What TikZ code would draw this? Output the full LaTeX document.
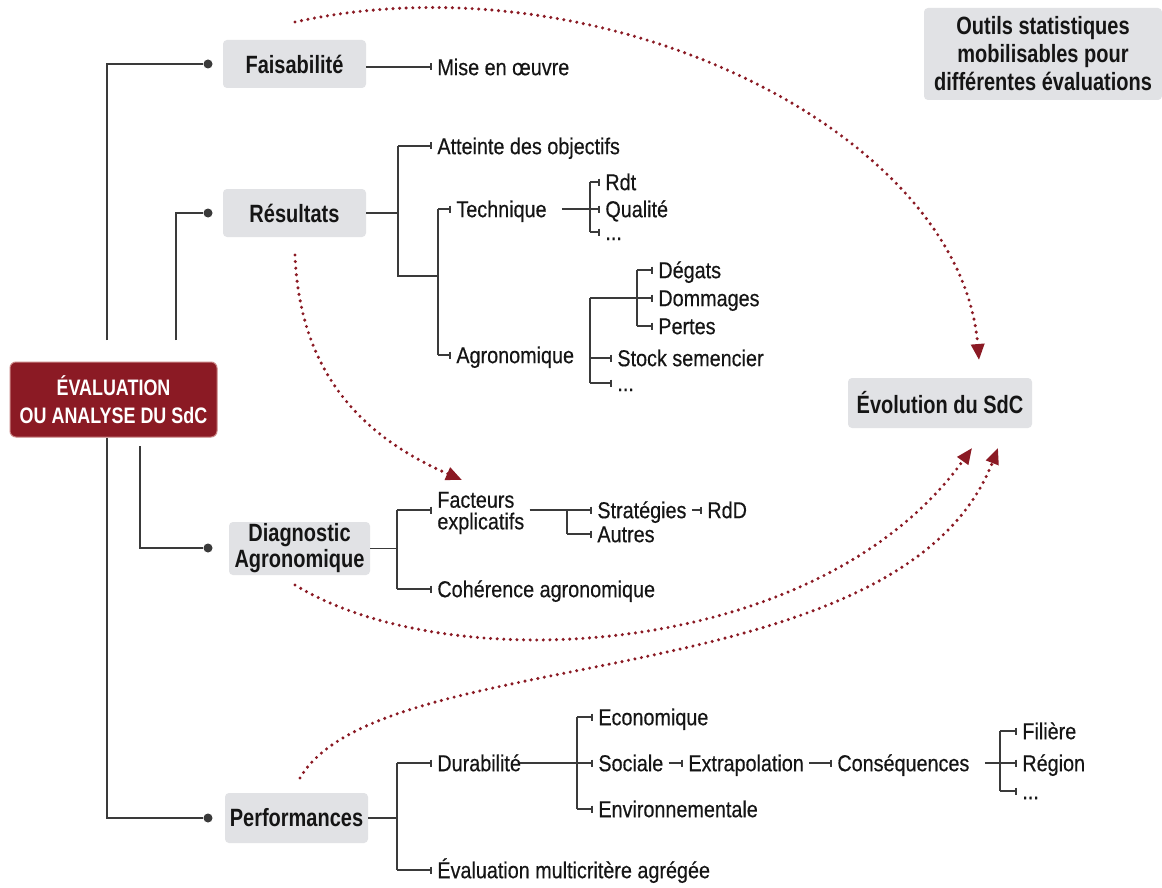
\documentclass[tikz,border=0pt]{standalone}
\usepackage{fontspec}
\setmainfont{Liberation Sans}[FakeStretch=0.86,FakeBold=0.4]
\newfontfamily\boxfont{Liberation Sans}[FakeStretch=0.8]
\usetikzlibrary{arrows.meta,calc}
\definecolor{dred}{HTML}{8B1A24}
\definecolor{boxg}{HTML}{E1E2E5}
\definecolor{lgray}{HTML}{3A3A3A}
\definecolor{txt}{HTML}{151515}
\begin{document}
\begin{tikzpicture}[x=0.5pt,y=-0.5pt,
 gbox/.style={fill=boxg, rounded corners=2pt, font=\boxfont\bfseries\fontsize{12.5}{14}\selectfont, text=txt, align=center, inner sep=0pt},
 lbl/.style={anchor=west, inner xsep=2.5pt, inner ysep=0pt, text height=8.2pt, text depth=0pt, font=\fontsize{11.5}{12}\selectfont, text=txt},
 tr/.style={draw=lgray, line width=0.8pt},
 tk/.style={tr, -{Bar[width=3.5pt,line width=0.8pt]}},
 lt/.style={draw=lgray, line width=1.1pt},
 rd/.style={draw=dred, line width=1.7pt, line cap=round, dash pattern=on 0pt off 3.3pt, -{Triangle[length=8pt,width=6.5pt]}},
 dotn/.style={circle, fill=lgray, inner sep=0pt, minimum size=4.5pt}
]
\useasboundingbox[fill=white] (0,0) rectangle (1162,888);

% main boxes
\node[fill=dred, draw={rgb,255:red,200;green,130;blue,130}, line width=0.5pt, rounded corners=3pt, minimum width=103.5pt, minimum height=37.5pt, inner sep=0pt, align=center, text=white, font=\boxfont\bfseries\fontsize{11.2}{14}\selectfont] (eval) at (113.5,399.5) {ÉVALUATION\\OU ANALYSE DU SdC};
\node[gbox, minimum width=71.5pt, minimum height=24pt] (fais) at (294.5,64) {Faisabilité};
\node[gbox, minimum width=71.5pt, minimum height=24pt] (res) at (294.5,213) {Résultats};
\node[gbox, minimum width=70.5pt, minimum height=26.5pt, font=\boxfont\bfseries\fontsize{12.5}{13}\selectfont] (diag) at (299.5,548.5) {Diagnostic\\Agronomique};
\node[gbox, minimum width=71.5pt, minimum height=25pt] (perf) at (296.5,818) {Performances};
\node[gbox, minimum width=92pt, minimum height=25pt] (evol) at (940,403) {Évolution du SdC};
\node[gbox, minimum width=119pt, minimum height=46pt] (outils) at (1043,54) {Outils statistiques\\mobilisables pour\\différentes évaluations};

% left tree
\node[dotn] (dF) at (208,64) {};
\node[dotn] (dR) at (208,213) {};
\node[dotn] (dD) at (208,548) {};
\node[dotn] (dP) at (208,818) {};
\coordinate (c1) at (107,340);
\coordinate (c2) at (107,438);
\coordinate (c3) at (176,340);
\coordinate (c4) at (140,446);
\draw[lt] (c1) |- (dF);
\draw[lt] (c2) |- (dP);
\draw[lt] (c3) |- (dR);
\draw[lt] (c4) |- (dD);

% labels
\node[lbl] (mise) at (432,67) {Mise en œuvre};
\node[lbl] (atteinte) at (432,146) {Atteinte des objectifs};
\node[lbl] (tech) at (451,209) {Technique};
\node[lbl] (agro) at (451,355) {Agronomique};
\node[lbl] (rdt) at (600,182) {Rdt};
\node[lbl] (qual) at (600,209) {Qualité};
\node[lbl] (dots1) at (600,232) {...};
\node[lbl] (degats) at (653,270) {Dégats};
\node[lbl] (domm) at (653,298) {Dommages};
\node[lbl] (pertes) at (653,326) {Pertes};
\node[lbl] (stock) at (612,358) {Stock semencier};
\node[lbl] (dots2) at (612,383) {...};
\node[anchor=west, inner xsep=2.5pt, inner ysep=0pt, align=left, font=\fontsize{11.5}{10.8}\selectfont, text=txt] (fact) at (432,513) {Facteurs\\explicatifs};
\node[lbl] (strat) at (592,510) {Stratégies};
\node[lbl] (rdd) at (702,510) {RdD};
\node[lbl] (autres) at (592,534) {Autres};
\node[lbl] (coher) at (432,589) {Cohérence agronomique};
\node[lbl] (durab) at (432,763) {Durabilité};
\node[lbl] (eco) at (593,717) {Economique};
\node[lbl] (soc) at (593,763) {Sociale};
\node[lbl] (extra) at (683,763) {Extrapolation};
\node[lbl] (conseq) at (832,763) {Conséquences};
\node[lbl] (fil) at (1017,731) {Filière};
\node[lbl] (reg) at (1017,763) {Région};
\node[lbl] (dots3) at (1017,791) {...};
\node[lbl] (envi) at (593,809) {Environnementale};
\node[lbl] (evalm) at (432,870) {Évaluation multicritère agrégée};

% Faisabilité
\draw[tk] (mise.west -| fais.east) -- (mise.west);

% Résultats
\coordinate (jR1) at (398,146);
\coordinate (jR2) at (398,276);
\coordinate (jR3) at (438,276);
\draw[tr] (res.east) -- (res.east -| jR1);
\draw[tr] (jR1) -- (jR2) -- (jR3);
\draw[tk] (jR1) -- (atteinte.west);
\draw[tr] (tech.west -| jR3) -- (agro.west -| jR3);
\draw[tk] (tech.west -| jR3) -- (tech.west);
\draw[tk] (agro.west -| jR3) -- (agro.west);
\coordinate (jT) at (590,209);
\draw[tr] ([xshift=5pt]tech.east) -- (jT);
\draw[tr] (rdt.west -| jT) -- (dots1.west -| jT);
\draw[tk] (rdt.west -| jT) -- (rdt.west);
\draw[tk] (qual.west -| jT) -- (qual.west);
\draw[tk] (dots1.west -| jT) -- (dots1.west);
\coordinate (jA) at (590,298);
\coordinate (jD) at (637,298);
\draw[tr] (jA) -- (dots2.west -| jA);
\draw[tk] (stock.west -| jA) -- (stock.west);
\draw[tk] (dots2.west -| jA) -- (dots2.west);
\draw[tr] (jA) -- (jD);
\draw[tr] (degats.west -| jD) -- (pertes.west -| jD);
\draw[tk] (degats.west -| jD) -- (degats.west);
\draw[tk] (domm.west -| jD) -- (domm.west);
\draw[tk] (pertes.west -| jD) -- (pertes.west);

% Diagnostic
\coordinate (jD1) at (397,510);
\coordinate (jD2) at (397,589);
\draw[tr] (diag.east) -- (diag.east -| jD1);
\draw[tr] (jD1) -- (jD2);
\draw[tk] (jD1) -- (fact.west |- jD1);
\draw[tk] (jD2) -- (coher.west);
\coordinate (jF) at (567,510);
\draw[tr] (fact.east |- jF) -- (jF);
\draw[tr] (jF) -- (autres.west -| jF);
\draw[tk] (jF) -- (strat.west);
\draw[tk] (autres.west -| jF) -- (autres.west);
\draw[tk] (strat.east) -- (rdd.west);

% Performances
\coordinate (jP1) at (397,763);
\coordinate (jP2) at (397,870);
\draw[tr] (perf.east) -- (perf.east -| jP1);
\draw[tr] (jP1) -- (jP2);
\draw[tk] (jP1) -- (durab.west);
\draw[tk] (jP2) -- (evalm.west);
\coordinate (jDu) at (577,763);
\draw[tr] ([xshift=-3pt]durab.east) -- (jDu);
\draw[tr] (eco.west -| jDu) -- (envi.west -| jDu);
\draw[tk] (eco.west -| jDu) -- (eco.west);
\draw[tk] (jDu) -- (soc.west);
\draw[tk] (envi.west -| jDu) -- (envi.west);
\draw[tk] (soc.east) -- (extra.west);
\draw[tk] (extra.east) -- (conseq.west);
\coordinate (jC) at (1000,763);
\draw[tr] ([xshift=5pt]conseq.east) -- (jC);
\draw[tr] (fil.west -| jC) -- (dots3.west -| jC);
\draw[tk] (fil.west -| jC) -- (fil.west);
\draw[tk] (jC) -- (reg.west);
\draw[tk] (dots3.west -| jC) -- (dots3.west);

% red dotted arrows
\coordinate (a1s) at (295,22);
\coordinate (a1e) at (979,360);
\draw[rd] (a1s) .. controls (600,-45) and (960,130) .. (a1e);
\coordinate (a2s) at (295,255);
\coordinate (a2e) at (462,480);
\draw[rd] (a2s) .. controls (300,380) and (370,440) .. (a2e);
\coordinate (a3s) at (295,585);
\coordinate (a3e) at (972,448);
\draw[rd] (a3s) .. controls (450,680) and (820,660) .. (a3e);
\coordinate (a4s) at (300,778);
\coordinate (a4e) at (998,448);
\draw[rd] (a4s) .. controls (380,640) and (900,700) .. (a4e);
\end{tikzpicture}
\end{document}
